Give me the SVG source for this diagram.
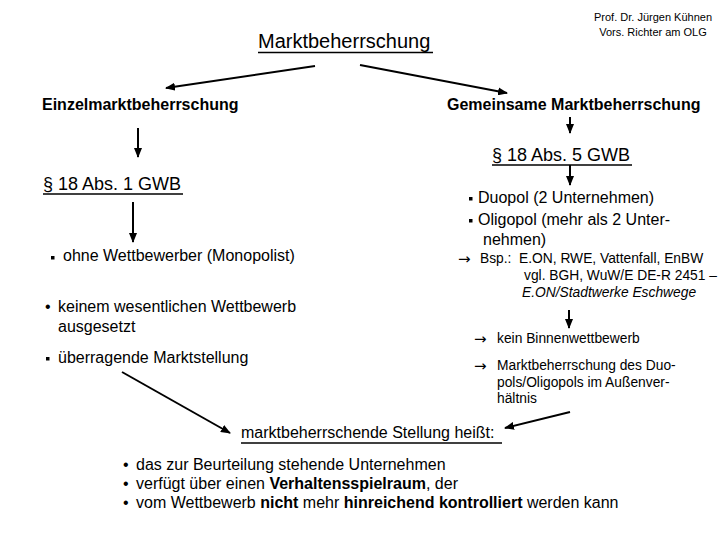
<svg xmlns="http://www.w3.org/2000/svg" width="720" height="540" viewBox="0 0 720 540">
<defs>
<marker id="ah" markerUnits="userSpaceOnUse" markerWidth="10" markerHeight="8" refX="9" refY="4" orient="auto">
<path d="M0,0 L10,4 L0,8 z" fill="#000"/>
</marker>
<style>
text{font-family:"Liberation Sans",Arial,sans-serif;fill:#000}
.t20{font-size:20px}
.t18{font-size:18px}
.t16{font-size:16px}
.t14{font-size:13.8px}
.sm{font-size:11px}
.ar{font-family:"DejaVu Sans",sans-serif;font-size:15px}
.b{font-weight:bold}
.i{font-style:italic}
.ul{stroke:#000;stroke-width:1.5}
.con line{stroke:#000;stroke-width:2;marker-end:url(#ah)}
.sq{fill:#000}
</style>
</defs>
<rect width="720" height="540" fill="#fff"/>
<g id="author">
<text class="sm" x="653" y="21" text-anchor="middle">Prof. Dr. Jürgen Kühnen</text>
<text class="sm" x="653" y="36" text-anchor="middle">Vors. Richter am OLG</text>
</g>
<g id="root">
<text class="t20" x="258" y="48">Marktbeherrschung</text>
<line class="ul" x1="258" y1="52.5" x2="433" y2="52.5"/>
</g>
<g id="einzel">
<text class="t16 b" x="42" y="110">Einzelmarktbeherrschung</text>
</g>
<g id="gemeinsam">
<text class="t16 b" x="447" y="110">Gemeinsame Marktbeherrschung</text>
</g>
<g id="par1">
<text class="t18" x="43" y="190">§ 18 Abs. 1 GWB</text>
<line class="ul" x1="43" y1="194" x2="183" y2="194"/>
</g>
<g id="par5">
<text class="t18" x="492" y="161">§ 18 Abs. 5 GWB</text>
<line class="ul" x1="492" y1="165" x2="632" y2="165"/>
</g>
<g id="einzel-list">
<rect class="sq" x="51" y="256" width="3.5" height="3.5"/>
<text class="t16" x="63" y="261">ohne Wettbewerber (Monopolist)</text>
<text class="t16" x="45" y="312">•</text>
<text class="t16" x="58" y="312">keinem wesentlichen Wettbewerb</text>
<text class="t16" x="58" y="332">ausgesetzt</text>
<rect class="sq" x="46" y="357" width="3.5" height="3.5"/>
<text class="t16" x="58" y="363">überragende Marktstellung</text>
</g>
<g id="gemeinsam-list">
<rect class="sq" x="469" y="197" width="3.5" height="3.5"/>
<text class="t16" x="478" y="203">Duopol (2 Unternehmen)</text>
<rect class="sq" x="469" y="219" width="3.5" height="3.5"/>
<text class="t16" x="478" y="225">Oligopol (mehr als 2 Unter-</text>
<text class="t16" x="483" y="245">nehmen)</text>
<text class="ar" x="458" y="264">→</text>
<text class="t14" x="480" y="263">Bsp.:</text>
<text class="t14" x="519" y="263">E.ON, RWE, Vattenfall, EnBW</text>
<text class="t14" x="524" y="280">vgl. BGH, WuW/E DE-R 2451 –</text>
<text class="t14 i" x="522" y="297">E.ON/Stadtwerke Eschwege</text>
</g>
<g id="folgen">
<text class="ar" x="474" y="344">→</text>
<text class="t14" x="497" y="343">kein Binnenwettbewerb</text>
<text class="ar" x="474" y="371">→</text>
<text class="t14" x="497" y="370">Marktbeherrschung des Duo-</text>
<text class="t14" x="497" y="387">pols/Oligopols im Außenver-</text>
<text class="t14" x="497" y="403">hältnis</text>
</g>
<g id="definition">
<text class="t16" x="241" y="438">marktbeherrschende Stellung heißt: </text>
<line class="ul" x1="241" y1="443" x2="502" y2="443"/>
<text class="t16" x="123" y="470">•</text>
<text class="t16" x="136" y="470">das zur Beurteilung stehende Unternehmen</text>
<text class="t16" x="123" y="489">•</text>
<text class="t16" x="136" y="489">verfügt über einen <tspan class="b">Verhaltensspielraum</tspan>, der</text>
<text class="t16" x="123" y="508">•</text>
<text class="t16" x="136" y="508">vom Wettbewerb <tspan class="b">nicht</tspan> mehr <tspan class="b">hinreichend kontrolliert</tspan> werden kann</text>
</g>
<g id="connectors" class="con">
<line x1="315" y1="66" x2="166" y2="88"/>
<line x1="360" y1="65" x2="507" y2="93"/>
<line x1="138" y1="128" x2="138" y2="157"/>
<line x1="570" y1="117" x2="570" y2="133"/>
<line x1="570" y1="165" x2="570" y2="185"/>
<line x1="133" y1="202" x2="133" y2="242"/>
<line x1="569" y1="310" x2="569" y2="328"/>
<line x1="122" y1="372" x2="230" y2="433"/>
<line x1="570" y1="412" x2="505" y2="428"/>
</g>
</svg>
